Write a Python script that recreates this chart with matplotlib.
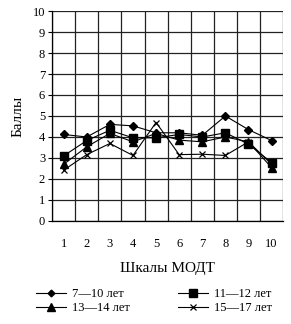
import matplotlib
matplotlib.use("Agg")
import matplotlib.pyplot as plt

plt.rcParams['font.family'] = ['Liberation Serif', 'DejaVu Serif']

categories = [1, 2, 3, 4, 5, 6, 7, 8, 9, 10]
s_7_10 = [4.12, 4.0, 4.6, 4.53, 4.2, 4.2, 4.08, 5.0, 4.35, 3.83]
s_11_12 = [3.1, 3.83, 4.32, 3.96, 3.96, 4.12, 4.0, 4.2, 3.66, 2.78]
s_13_14 = [2.7, 3.53, 4.17, 3.77, 4.17, 3.85, 3.77, 4.0, 3.77, 2.54]
s_15_17 = [2.42, 3.16, 3.69, 3.12, 4.69, 3.16, 3.18, 3.12, 3.77, 2.7]
labels = ['7—10 лет', '11—12 лет', '13—14 лет', '15—17 лет']
yticks = list(range(0, 11))

fig = plt.figure(figsize=(2.91, 3.24), dpi=100)
ax = fig.add_axes([0.179, 0.318, 0.794, 0.648])

lw = 0.8
h1, = ax.plot(categories, s_7_10, color='black', lw=lw, marker='D', ms=4)
h2, = ax.plot(categories, s_11_12, color='black', lw=lw, marker='s', ms=6)
h3, = ax.plot(categories, s_13_14, color='black', lw=lw, marker='^', ms=6)
h4, = ax.plot(categories, s_15_17, color='black', lw=lw, marker='x', ms=5, mew=0.9)

ax.set_xlim(0.5, 10.5)
ax.set_ylim(0, 10)
ax.set_yticks(yticks)
ax.set_xticks(categories)
ax.set_xticks([c - 0.5 for c in categories] + [10.5], minor=True)
ax.grid(True, which='major', axis='y', color='#222222', lw=0.9)
ax.grid(True, which='minor', axis='x', color='#222222', lw=0.9)
ax.tick_params(axis='x', which='both', length=0, labelsize=9, pad=12)
ax.tick_params(axis='y', length=3, labelsize=9, pad=2)
for s in ['top', 'right']:
    ax.spines[s].set_visible(False)
for s in ['left', 'bottom']:
    ax.spines[s].set_linewidth(0.9)
ax.set_axisbelow(True)

ax.set_ylabel('Баллы', fontsize=11, labelpad=6)
ax.set_xlabel('Шкалы МОДТ', fontsize=11, labelpad=9)

fig.legend([h1, h3, h2, h4], [labels[0], labels[2], labels[1], labels[3]],
           ncol=2, loc='upper left', bbox_to_anchor=(0.085, 0.145),
           frameon=False, fontsize=9, handlelength=2.4, columnspacing=3.8,
           labelspacing=0.15, handletextpad=0.5, markerscale=0.85)

fig.savefig('out.png', dpi=100)
